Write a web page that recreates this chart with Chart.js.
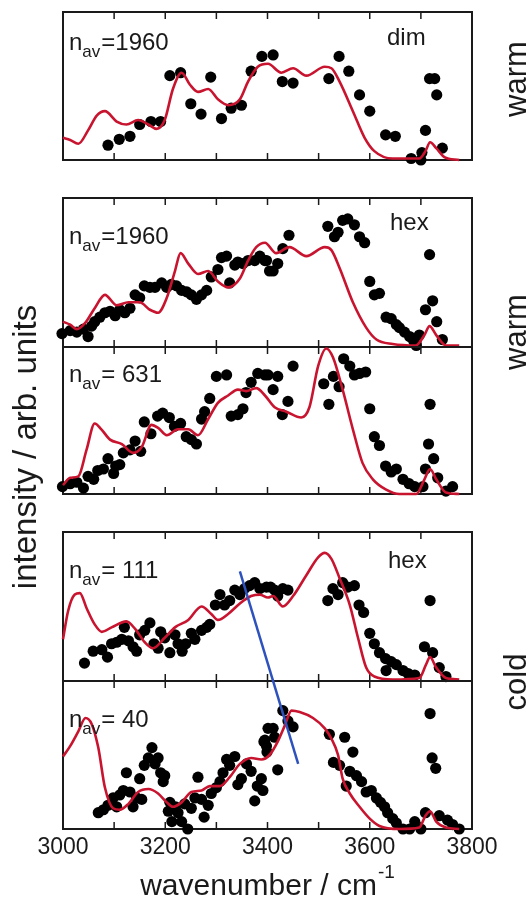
<!DOCTYPE html>
<html>
<head>
<meta charset="utf-8">
<script src="https://cdn.jsdelivr.net/npm/chart.js@4.4.1/dist/chart.umd.min.js"></script>
<style>
  html, body { margin: 0; padding: 0; background: #fff; }
  #wrap { position: relative; width: 529px; height: 901px; overflow: hidden; }
  #wrap canvas { position: absolute; left: 0; top: 0; }
</style>
</head>
<body>
<div id="wrap">
  <canvas id="c1" width="529" height="901"></canvas>
  <canvas id="c2" width="529" height="901"></canvas>
  <canvas id="c3" width="529" height="901"></canvas>
  <canvas id="c4" width="529" height="901"></canvas>
  <canvas id="c5" width="529" height="901"></canvas>
</div>
<script>
// x axis
const tickValues = [3000, 3200, 3400, 3600, 3800];
const minorTicks = [3100, 3200, 3300, 3400, 3500, 3600, 3700];

// panel 1: dim, n_av = 1960 (warm)
const p1DotX = [3088, 3110, 3131, 3150, 3172, 3191, 3209, 3230, 3250, 3270, 3289, 3310, 3329, 3349, 3368, 3389, 3411, 3429, 3450, 3520, 3540, 3559, 3580, 3600, 3631, 3650, 3681, 3700, 3702, 3709, 3717, 3727, 3731, 3742];
const p1DotY = [0.10, 0.14, 0.16, 0.24, 0.26, 0.26, 0.57, 0.59, 0.38, 0.31, 0.56, 0.28, 0.35, 0.37, 0.60, 0.70, 0.71, 0.53, 0.52, 0.55, 0.70, 0.60, 0.44, 0.33, 0.17, 0.16, 0.01, 0.00, 0.05, 0.20, 0.55, 0.55, 0.44, 0.08];
const p1LineX = [3000, 3014, 3030, 3049, 3066, 3082, 3105, 3124, 3147, 3167, 3183, 3199, 3215, 3232, 3248, 3264, 3284, 3303, 3323, 3346, 3362, 3381, 3401, 3427, 3450, 3476, 3512, 3525, 3541, 3567, 3590, 3609, 3645, 3697, 3709, 3718, 3730, 3746, 3775];
const p1LineY = [0.15, 0.135, 0.11, 0.20, 0.30, 0.33, 0.26, 0.24, 0.27, 0.24, 0.21, 0.27, 0.48, 0.59, 0.51, 0.46, 0.48, 0.41, 0.37, 0.41, 0.53, 0.63, 0.65, 0.59, 0.62, 0.57, 0.63, 0.62, 0.53, 0.33, 0.15, 0.06, 0.01, 0.01, 0.06, 0.12, 0.08, 0.02, 0.00];

// panel 2: hex, n_av = 1960 (warm)
const p2DotX = [2998, 3014, 3027, 3040, 3049, 3056, 3062, 3072, 3082, 3092, 3102, 3111, 3121, 3131, 3141, 3150, 3159, 3170, 3180, 3193, 3203, 3212, 3222, 3232, 3242, 3251, 3261, 3271, 3281, 3290, 3303, 3310, 3320, 3326, 3336, 3342, 3352, 3362, 3375, 3385, 3395, 3404, 3398, 3411, 3420, 3430, 3442, 3518, 3531, 3538, 3547, 3557, 3570, 3580, 3590, 3600, 3609, 3619, 3632, 3642, 3652, 3658, 3668, 3678, 3686, 3691, 3697, 3709, 3723, 3717, 3731, 3742];
const p2DotY = [0.09, 0.11, 0.10, 0.12, 0.07, 0.14, 0.17, 0.20, 0.23, 0.24, 0.21, 0.25, 0.23, 0.26, 0.35, 0.33, 0.41, 0.40, 0.40, 0.43, 0.40, 0.42, 0.41, 0.38, 0.37, 0.35, 0.32, 0.35, 0.38, 0.47, 0.52, 0.60, 0.61, 0.43, 0.55, 0.57, 0.56, 0.58, 0.58, 0.61, 0.58, 0.51, 0.58, 0.51, 0.56, 0.66, 0.75, 0.81, 0.74, 0.77, 0.85, 0.86, 0.82, 0.74, 0.70, 0.44, 0.35, 0.36, 0.20, 0.19, 0.15, 0.13, 0.10, 0.07, 0.04, 0.01, 0.08, 0.25, 0.31, 0.62, 0.17, 0.05];
const p2LineX = [3000, 3014, 3027, 3043, 3062, 3082, 3105, 3128, 3150, 3170, 3186, 3203, 3219, 3230, 3245, 3264, 3284, 3303, 3323, 3346, 3362, 3378, 3395, 3417, 3443, 3476, 3512, 3525, 3541, 3567, 3593, 3613, 3645, 3690, 3707, 3717, 3730, 3749, 3775];
const p2LineY = [0.17, 0.15, 0.12, 0.16, 0.26, 0.35, 0.28, 0.30, 0.30, 0.25, 0.23, 0.33, 0.51, 0.63, 0.56, 0.49, 0.51, 0.44, 0.40, 0.46, 0.58, 0.67, 0.70, 0.63, 0.67, 0.61, 0.67, 0.65, 0.53, 0.30, 0.13, 0.05, 0.02, 0.01, 0.08, 0.14, 0.08, 0.01, 0.01];

// panel 3: n_av = 631 (warm)
const p3DotX = [2999, 3014, 3027, 3040, 3049, 3060, 3068, 3079, 3088, 3099, 3103, 3111, 3118, 3131, 3141, 3152, 3159, 3172, 3185, 3195, 3208, 3218, 3230, 3241, 3251, 3261, 3271, 3277, 3287, 3300, 3320, 3329, 3342, 3352, 3358, 3368, 3381, 3395, 3401, 3411, 3420, 3429, 3440, 3450, 3510, 3520, 3529, 3540, 3549, 3561, 3570, 3580, 3592, 3600, 3609, 3619, 3631, 3642, 3652, 3665, 3677, 3688, 3704, 3709, 3715, 3718, 3725, 3733, 3749, 3762];
const p3DotY = [0.05, 0.07, 0.08, 0.04, 0.12, 0.10, 0.16, 0.17, 0.24, 0.14, 0.19, 0.20, 0.28, 0.30, 0.36, 0.29, 0.49, 0.41, 0.53, 0.55, 0.52, 0.46, 0.48, 0.39, 0.37, 0.34, 0.51, 0.56, 0.65, 0.80, 0.81, 0.53, 0.54, 0.58, 0.69, 0.76, 0.82, 0.81, 0.81, 0.71, 0.80, 0.54, 0.63, 0.87, 0.75, 0.61, 0.80, 0.73, 0.92, 0.87, 0.81, 0.82, 0.83, 0.58, 0.39, 0.33, 0.19, 0.15, 0.17, 0.10, 0.07, 0.05, 0.05, 0.17, 0.34, 0.61, 0.24, 0.11, 0.02, 0.05];
const p3LineX = [3000, 3014, 3030, 3046, 3062, 3075, 3092, 3115, 3137, 3154, 3173, 3186, 3203, 3225, 3245, 3264, 3284, 3303, 3323, 3342, 3358, 3378, 3395, 3414, 3437, 3466, 3482, 3499, 3515, 3528, 3547, 3567, 3586, 3606, 3632, 3658, 3691, 3707, 3718, 3730, 3749, 3775];
const p3LineY = [0.06, 0.11, 0.12, 0.30, 0.48, 0.44, 0.37, 0.34, 0.28, 0.32, 0.47, 0.45, 0.40, 0.44, 0.44, 0.40, 0.51, 0.62, 0.67, 0.71, 0.70, 0.72, 0.67, 0.59, 0.56, 0.52, 0.59, 0.87, 0.99, 0.93, 0.71, 0.44, 0.21, 0.10, 0.03, 0.00, 0.00, 0.10, 0.17, 0.10, 0.01, 0.00];

// panel 4: hex, n_av = 111 (cold)
const p4DotX = [3042, 3059, 3076, 3087, 3095, 3105, 3115, 3120, 3128, 3137, 3144, 3150, 3160, 3170, 3178, 3186, 3191, 3199, 3209, 3219, 3225, 3233, 3240, 3251, 3258, 3271, 3281, 3287, 3298, 3307, 3316, 3326, 3336, 3346, 3355, 3365, 3375, 3385, 3398, 3406, 3414, 3420, 3430, 3440, 3518, 3528, 3538, 3547, 3557, 3570, 3579, 3588, 3600, 3609, 3619, 3631, 3632, 3642, 3652, 3665, 3675, 3688, 3707, 3718, 3723, 3736, 3749];
const p4DotY = [0.12, 0.20, 0.21, 0.16, 0.25, 0.26, 0.28, 0.36, 0.27, 0.23, 0.20, 0.31, 0.34, 0.39, 0.25, 0.22, 0.33, 0.29, 0.19, 0.31, 0.25, 0.20, 0.25, 0.32, 0.28, 0.34, 0.36, 0.38, 0.51, 0.58, 0.51, 0.54, 0.61, 0.58, 0.62, 0.64, 0.66, 0.62, 0.63, 0.63, 0.61, 0.57, 0.62, 0.61, 0.54, 0.62, 0.58, 0.66, 0.63, 0.64, 0.51, 0.46, 0.32, 0.25, 0.19, 0.15, 0.07, 0.13, 0.11, 0.07, 0.05, 0.04, 0.23, 0.54, 0.19, 0.09, 0.03];
const p4LineX = [3000, 3010, 3023, 3033, 3046, 3062, 3076, 3095, 3124, 3141, 3160, 3176, 3199, 3219, 3245, 3271, 3290, 3303, 3323, 3346, 3368, 3385, 3401, 3411, 3430, 3450, 3476, 3499, 3512, 3525, 3541, 3561, 3577, 3593, 3609, 3645, 3697, 3710, 3718, 3730, 3749, 3775];
const p4LineY = [0.28, 0.47, 0.58, 0.59, 0.49, 0.38, 0.33, 0.36, 0.40, 0.35, 0.26, 0.22, 0.29, 0.36, 0.41, 0.50, 0.45, 0.41, 0.45, 0.52, 0.57, 0.58, 0.56, 0.57, 0.50, 0.57, 0.71, 0.83, 0.86, 0.82, 0.69, 0.51, 0.29, 0.09, 0.03, 0.01, 0.02, 0.11, 0.16, 0.09, 0.02, 0.01];

// panel 5: n_av = 40 (cold)
const p5DotX = [3069, 3079, 3088, 3098, 3105, 3111, 3118, 3124, 3131, 3137, 3144, 3150, 3154, 3159, 3167, 3174, 3180, 3186, 3191, 3196, 3199, 3206, 3209, 3213, 3220, 3225, 3232, 3238, 3244, 3251, 3258, 3264, 3271, 3276, 3284, 3290, 3300, 3307, 3313, 3320, 3326, 3336, 3342, 3349, 3359, 3368, 3375, 3380, 3388, 3391, 3393, 3395, 3398, 3399, 3401, 3411, 3414, 3420, 3430, 3440, 3450, 3521, 3529, 3541, 3551, 3554, 3561, 3567, 3574, 3584, 3593, 3603, 3613, 3621, 3629, 3635, 3645, 3652, 3665, 3678, 3688, 3700, 3709, 3718, 3722, 3729, 3736, 3752, 3762, 3775];
const p5DotY = [0.11, 0.13, 0.16, 0.21, 0.15, 0.23, 0.26, 0.38, 0.25, 0.15, 0.21, 0.34, 0.20, 0.43, 0.48, 0.55, 0.44, 0.48, 0.38, 0.32, 0.36, 0.12, 0.18, 0.05, 0.15, 0.11, 0.05, 0.17, 0.00, 0.14, 0.21, 0.35, 0.20, 0.08, 0.16, 0.24, 0.28, 0.32, 0.38, 0.47, 0.43, 0.49, 0.30, 0.34, 0.44, 0.39, 0.19, 0.29, 0.34, 0.26, 0.59, 0.60, 0.56, 0.52, 0.68, 0.68, 0.62, 0.40, 0.80, 0.73, 0.69, 0.64, 0.45, 0.43, 0.62, 0.29, 0.39, 0.52, 0.36, 0.32, 0.25, 0.26, 0.21, 0.18, 0.15, 0.11, 0.07, 0.04, 0.00, 0.00, 0.05, 0.00, 0.11, 0.78, 0.48, 0.41, 0.09, 0.06, 0.03, 0.00];
const p5LineX = [3000, 3014, 3030, 3044, 3056, 3069, 3082, 3098, 3111, 3128, 3147, 3167, 3186, 3203, 3215, 3232, 3251, 3271, 3287, 3307, 3326, 3346, 3368, 3388, 3404, 3420, 3434, 3447, 3463, 3489, 3512, 3525, 3538, 3547, 3561, 3580, 3600, 3619, 3658, 3697, 3709, 3718, 3730, 3749, 3775];
const p5LineY = [0.49, 0.56, 0.66, 0.75, 0.71, 0.55, 0.28, 0.14, 0.13, 0.17, 0.25, 0.27, 0.24, 0.18, 0.15, 0.18, 0.25, 0.26, 0.29, 0.29, 0.35, 0.44, 0.48, 0.47, 0.50, 0.59, 0.70, 0.80, 0.79, 0.75, 0.68, 0.61, 0.50, 0.34, 0.24, 0.15, 0.07, 0.02, 0.00, 0.01, 0.09, 0.12, 0.05, 0.01, 0.00];

// blue guide line, in panel-5 units (runs up into panel 4)
const blueX = [3346, 3460];
const blueY = [1.74, 0.44];

const FONT = '"Liberation Sans", Arial, Helvetica, sans-serif';
const RED = '#c8142f';
const INK = '#1a1a1a';

function pts(xs, ys) {
    return xs.map((x, i) => ({x: x, y: ys[i]}));
}

// n_av label with subscript
function drawNav(ctx, x, y, rest) {
    ctx.font = '24px ' + FONT;
    ctx.fillText('n', x, y);
    let w = ctx.measureText('n').width;
    ctx.font = '17px ' + FONT;
    ctx.fillText('av', x + w, y + 7);
    let w2 = ctx.measureText('av').width;
    ctx.font = '24px ' + FONT;
    ctx.fillText(rest, x + w + w2 + 1, y);
}

const framePlugin = {
    id: 'frame',
    beforeDatasetsDraw(chart) {
        const ctx = chart.ctx;
        const a = chart.chartArea;
        const xs = chart.scales.x;
        ctx.save();
        ctx.strokeStyle = INK;
        ctx.lineWidth = 2;
        ctx.strokeRect(a.left, a.top, a.right - a.left, a.bottom - a.top);
        ctx.lineWidth = 1.5;
        ctx.beginPath();
        minorTicks.forEach(v => {
            const px = xs.getPixelForValue(v);
            ctx.moveTo(px, a.top);
            ctx.lineTo(px, a.top + 7);
            ctx.moveTo(px, a.bottom);
            ctx.lineTo(px, a.bottom - 7);
        });
        ctx.stroke();
        ctx.restore();
    },
    afterDraw(chart) {
        const o = chart.options.plugins.frame;
        const ctx = chart.ctx;
        const a = chart.chartArea;
        ctx.save();
        ctx.fillStyle = INK;
        ctx.textBaseline = 'alphabetic';
        drawNav(ctx, a.left + 6, a.top + o.navDy, o.nav);
        if (o.tag) {
            ctx.font = '24px ' + FONT;
            ctx.fillText(o.tag, o.tagX, a.top + o.tagDy);
        }
        ctx.restore();
    }
};

const textPlugin = {
    id: 'pageText',
    afterDraw(chart) {
        const ctx = chart.ctx;
        ctx.save();
        ctx.fillStyle = INK;
        // x title with superscript
        ctx.font = '30px ' + FONT;
        ctx.textBaseline = 'alphabetic';
        const t = 'wavenumber / cm';
        const tw = ctx.measureText(t).width;
        ctx.font = '19px ' + FONT;
        const sw = ctx.measureText('-1').width;
        const x0 = 267 - (tw + sw) / 2;
        ctx.font = '30px ' + FONT;
        ctx.fillText(t, x0, 895);
        ctx.font = '19px ' + FONT;
        ctx.fillText('-1', x0 + tw + 1, 878);
        // rotated labels
        const rot = (txt, x, y, size) => {
            ctx.save();
            ctx.translate(x, y);
            ctx.rotate(-Math.PI / 2);
            ctx.font = size + 'px ' + FONT;
            ctx.textAlign = 'center';
            ctx.textBaseline = 'middle';
            ctx.fillText(txt, 0, 0);
            ctx.restore();
        };
        rot('intensity / arb. units', 27, 447, 33);
        rot('warm', 517, 79, 31);
        rot('warm', 517, 332, 31);
        rot('cold', 517, 682, 31);
        ctx.restore();
    }
};

const panels = [
    {id: 'c1', top: 12, bottom: 160, dx: p1DotX, dy: p1DotY, lx: p1LineX, ly: p1LineY, nav: '=1960', navDy: 38, tag: 'dim', tagX: 387, tagDy: 33},
    {id: 'c2', top: 198, bottom: 347, dx: p2DotX, dy: p2DotY, lx: p2LineX, ly: p2LineY, nav: '=1960', navDy: 46, tag: 'hex', tagX: 390, tagDy: 32},
    {id: 'c3', top: 347, bottom: 494, dx: p3DotX, dy: p3DotY, lx: p3LineX, ly: p3LineY, nav: '= 631', navDy: 35},
    {id: 'c4', top: 532, bottom: 681, dx: p4DotX, dy: p4DotY, lx: p4LineX, ly: p4LineY, nav: '= 111', navDy: 46, tag: 'hex', tagX: 388, tagDy: 36},
    {id: 'c5', top: 681, bottom: 829, dx: p5DotX, dy: p5DotY, lx: p5LineX, ly: p5LineY, nav: '= 40', navDy: 46, last: true}
];

panels.forEach(p => {
    const datasets = [];
    if (p.last) {
        datasets.push({
            type: 'line', data: pts(blueX, blueY), borderColor: '#2d52bd', borderWidth: 2.5,
            pointRadius: 0, fill: false, clip: false
        });
    }
    datasets.push({
        type: 'line', data: pts(p.lx, p.ly), borderColor: RED, borderWidth: 2.6,
        pointRadius: 0, tension: 0.4, cubicInterpolationMode: 'monotone', fill: false, clip: false
    });
    datasets.push({
        type: 'scatter', data: pts(p.dx, p.dy), backgroundColor: '#000', borderWidth: 0,
        pointRadius: 5.6, clip: false
    });

    const axisH = 40;
    const xScale = {
        type: 'linear', min: 3000, max: 3800,
        display: !!p.last,
        grid: {display: false, drawTicks: false},
        border: {display: false},
        ticks: {
            font: {family: FONT, size: 23}, color: INK, padding: 5,
            maxRotation: 0, autoSkip: false,
            callback: v => String(v)
        },
        afterBuildTicks: s => { s.ticks = tickValues.map(v => ({value: v})); }
    };
    if (p.last) {
        xScale.afterFit = s => { s.height = axisH; };
    }

    new Chart(document.getElementById(p.id), {
        type: 'scatter',
        data: {datasets: datasets},
        options: {
            responsive: false,
            animation: false,
            events: [],
            layout: {
                autoPadding: false,
                padding: {left: 63, right: 57, top: p.top, bottom: p.last ? 901 - p.bottom - axisH : 901 - p.bottom}
            },
            plugins: {
                legend: {display: false},
                tooltip: {enabled: false},
                frame: {nav: p.nav, navDy: p.navDy, tag: p.tag, tagX: p.tagX, tagDy: p.tagDy}
            },
            scales: {
                x: xScale,
                y: {min: 0, max: 1, display: false}
            }
        },
        plugins: p.last ? [framePlugin, textPlugin] : [framePlugin]
    });
});
</script>
</body>
</html>
